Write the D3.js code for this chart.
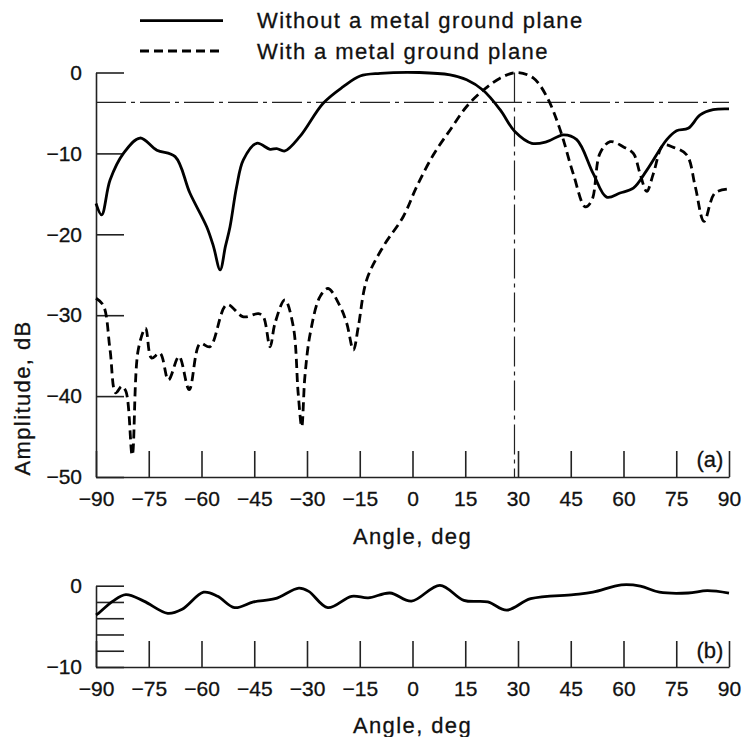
<!DOCTYPE html>
<html>
<head>
<meta charset="utf-8">
<script src="https://cdn.jsdelivr.net/npm/d3@7"></script>
<style>
  body { margin: 0; background: #fff; }
  svg { display: block; font-family: "Liberation Sans", Arial, Helvetica, sans-serif; }
  .axis path, .axis line { stroke: #222; stroke-width: 1.6; }
  .axis text { font-size: 21px; fill: #111; stroke: #111; stroke-width: 0.3; }
  .title { font-size: 22px; letter-spacing: 1.4px; fill: #111; stroke: #111; stroke-width: 0.3; }
</style>
</head>
<body>
<script>
// panel (a) - without ground plane (solid)
var solidAngle = [-90, -88.4, -86, -82.2, -77.5, -72.7, -67.5, -63.3, -58.5, -56.6, -54.7, -53.2, -51.9, -50, -48.1, -44.3, -40.5, -38.6, -36.3, -32, -25.4, -19.7, -14.9, -9.2, 2, 10.7, 15.4, 20.1, 24.9, 29.1, 33.9, 38.2, 42.9, 46.7, 51.4, 55.2, 59, 62.8, 66.6, 72.3, 75.1, 78.4, 81.8, 85.5, 90];
var solidDb = [-16.2, -17.6, -13.3, -10.0, -8.1, -9.6, -10.4, -14.9, -19.1, -21.5, -24.4, -21.5, -19.1, -14.1, -10.8, -8.75, -9.5, -9.4, -9.7, -7.9, -3.8, -1.75, -0.43, -0.1, 0, -0.3, -0.9, -2.2, -4.6, -7.3, -8.75, -8.55, -7.7, -8.3, -12.5, -15.4, -14.9, -14.3, -12.1, -8.3, -7.2, -6.9, -5.25, -4.6, -4.5];

// panel (a) - with ground plane (dashed)
var dashAngle = [-90, -87.9, -86, -84.4, -82.7, -81.5, -79.7, -78, -75.9, -74.2, -71.8, -69.4, -66.4, -63.5, -60.4, -57.6, -52.8, -48.1, -43.8, -42.4, -40.5, -39.1, -36.3, -33.9, -32.5, -31.5, -30.6, -29.1, -26.3, -24, -20.6, -18.7, -16.8, -15.4, -13, -8.3, -2.6, 1.2, 5.9, 10.7, 15.4, 20.1, 24.9, 29.6, 34.4, 38.2, 42, 45.7, 49.1, 51, 53.3, 56.2, 60, 62.8, 64.7, 66.6, 68.5, 71.3, 74.2, 78, 80.4, 82.9, 86, 90];
var dashDb = [-27.9, -28.8, -34.3, -39.6, -38.8, -39.4, -47.3, -34.3, -31.6, -35.3, -34.7, -38.0, -35.1, -39.2, -33.5, -33.9, -28.7, -30.2, -29.8, -30.2, -33.9, -31.0, -28.1, -31.4, -39.7, -43.8, -37.6, -32.3, -27.7, -26.7, -28.9, -31.0, -34.3, -31.4, -25.6, -21.5, -17.8, -14.1, -10.2, -7.1, -4.2, -2.2, -0.7, 0, -0.7, -3.0, -7.1, -12.5, -16.6, -15.8, -10.0, -8.55, -9.2, -10.0, -12.5, -14.7, -12.5, -9.0, -9.25, -10.2, -14.1, -18.4, -14.9, -14.4];

// panel (b)
var diffAngle = [-90, -89.3, -85.2, -81.5, -76.4, -69.6, -65.5, -59.4, -55.4, -50.6, -45.2, -39.1, -32.3, -29.5, -24.1, -17.3, -12.6, -6.4, -0.3, 7.8, 14.6, 21.4, 26.8, 33.6, 45.8, 51.3, 59.4, 64.8, 70.2, 78.4, 83.8, 90];
var diffDb = [-3.6, -3.4, -1.9, -1.1, -1.9, -3.4, -2.9, -0.8, -1.3, -2.7, -2.0, -1.6, -0.3, -0.7, -2.7, -1.3, -1.5, -0.9, -1.9, 0.05, -1.8, -2.0, -3.0, -1.6, -1.1, -0.8, 0.1, -0.05, -0.8, -0.9, -0.6, -0.9];

var xTicks = [-90, -75, -60, -45, -30, -15, 0, 15, 30, 45, 60, 75, 90];
var yTicksA = [0, -10, -20, -30, -40, -50];
var yTicksB = [0, -2, -4, -6, -8, -10];
var yLabelsB = [0, -10];
var halfPower = -3.7;
var beamAngle = 29;
var legendNames = ["Without a metal ground plane", "With a metal ground plane"];

var width = 748, height = 737;
var svg = d3.select("body").append("svg").attr("width", width).attr("height", height);

var x = d3.scaleLinear().domain([-90, 90]).range([96, 729]);
var yA = d3.scaleLinear().domain([-50, 0]).range([477, 72.5]);
var yB = d3.scaleLinear().domain([-10, 0]).range([667, 585.7]);

var fmt = d3.format("d");

function xAxisAt(yScale) {
  svg.append("g").attr("class", "axis")
    .attr("transform", "translate(0," + yScale(yScale.domain()[0]) + ")")
    .call(d3.axisBottom(x).tickValues(xTicks).tickFormat(fmt).tickSizeInner(-26).tickSizeOuter(0).tickPadding(14));
}

// panel (a) axes
xAxisAt(yA);
svg.append("g").attr("class", "axis")
  .attr("transform", "translate(" + x(-90) + ",0)")
  .call(d3.axisLeft(yA).tickValues(yTicksA).tickFormat(fmt).tickSizeInner(-28).tickSizeOuter(0).tickPadding(14));

// reference lines
svg.append("line")
  .attr("x1", x(-90)).attr("x2", x(90)).attr("y1", yA(halfPower)).attr("y2", yA(halfPower))
  .attr("stroke", "#222").attr("stroke-width", 1.2).attr("stroke-dasharray", "30,5,4,5");
svg.append("line")
  .attr("x1", x(beamAngle)).attr("x2", x(beamAngle)).attr("y1", yA(0)).attr("y2", yA(-50))
  .attr("stroke", "#222").attr("stroke-width", 1.2).attr("stroke-dasharray", "30,5,4,5");

var lineA = d3.line().curve(d3.curveCatmullRom.alpha(0.5))
  .x(function(d){ return x(d[0]); })
  .y(function(d){ return yA(d[1]); });

svg.append("path").attr("d", lineA(d3.zip(solidAngle, solidDb)))
  .attr("fill", "none").attr("stroke", "#000").attr("stroke-width", 2.8);
svg.append("path").attr("d", lineA(d3.zip(dashAngle, dashDb)))
  .attr("fill", "none").attr("stroke", "#000").attr("stroke-width", 2.8).attr("stroke-dasharray", "9,5");

svg.append("text").attr("class", "title").attr("x", 710).attr("y", 459).attr("dy", "0.35em")
  .attr("text-anchor", "middle").style("letter-spacing", "0px").text("(a)");
svg.append("text").attr("class", "title").attr("x", x(0)).attr("y", 536).attr("dy", "0.35em")
  .attr("text-anchor", "middle").text("Angle, deg");
svg.append("text").attr("class", "title")
  .attr("transform", "translate(22," + 398 + ") rotate(-90)").attr("dy", "0.35em")
  .attr("text-anchor", "middle").text("Amplitude, dB");

// legend
legendNames.forEach(function(name, i) {
  var ly = 20.7 + i * 30.3;
  var l = svg.append("line").attr("x1", 140).attr("x2", 223).attr("y1", ly).attr("y2", ly)
    .attr("stroke", "#000").attr("stroke-width", 2.8);
  if (i == 1) l.attr("stroke-dasharray", "9,5");
  svg.append("text").attr("class", "title").attr("x", 257).attr("y", ly).attr("dy", "0.35em").text(name);
});

// panel (b)
xAxisAt(yB);
svg.append("g").attr("class", "axis")
  .attr("transform", "translate(" + x(-90) + ",0)")
  .call(d3.axisLeft(yB).tickValues(yTicksB)
    .tickFormat(function(d){ return yLabelsB.indexOf(d) >= 0 ? fmt(d) : ""; })
    .tickSizeInner(-28).tickSizeOuter(0).tickPadding(14));

var lineB = d3.line().curve(d3.curveCatmullRom.alpha(0.5))
  .x(function(d){ return x(d[0]); })
  .y(function(d){ return yB(d[1]); });
svg.append("path").attr("d", lineB(d3.zip(diffAngle, diffDb)))
  .attr("fill", "none").attr("stroke", "#000").attr("stroke-width", 2.8);

svg.append("text").attr("class", "title").attr("x", 710).attr("y", 650).attr("dy", "0.35em")
  .attr("text-anchor", "middle").style("letter-spacing", "0px").text("(b)");
svg.append("text").attr("class", "title").attr("x", x(0)).attr("y", 725).attr("dy", "0.35em")
  .attr("text-anchor", "middle").text("Angle, deg");
</script>
</body>
</html>
